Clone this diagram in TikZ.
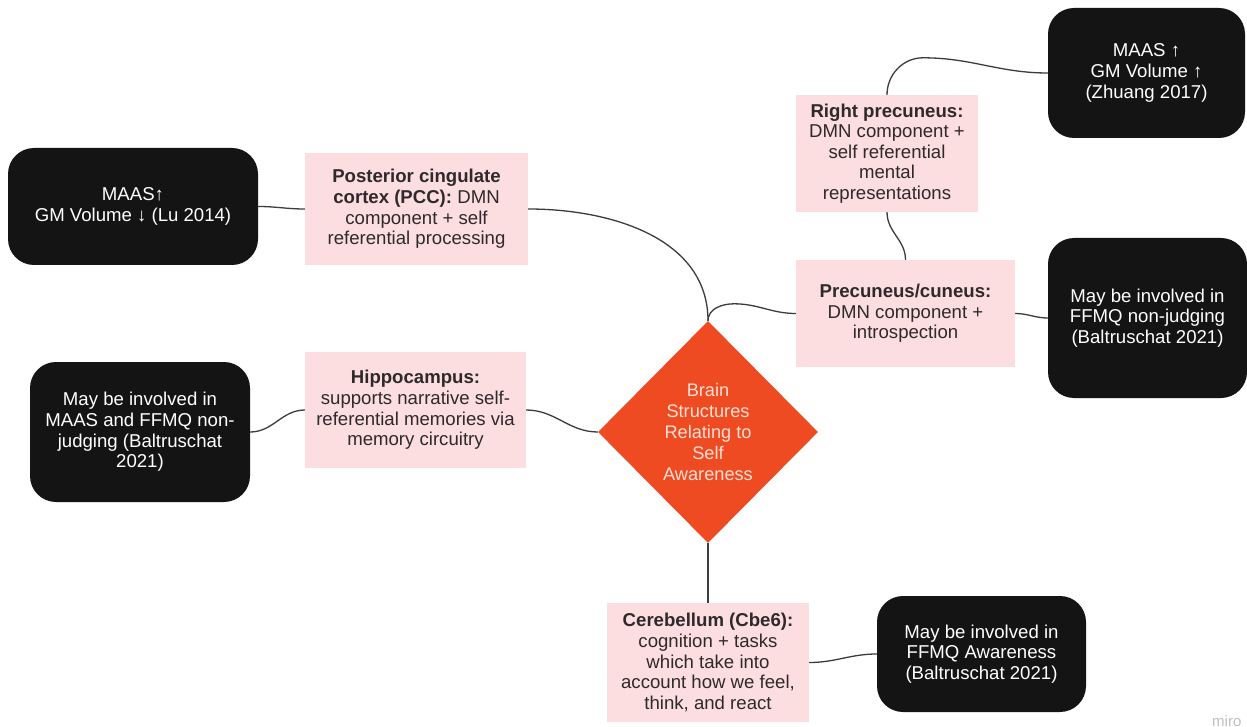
\documentclass[tikz,border=0pt]{standalone}
\usepackage{fontspec}
\setmainfont{Liberation Sans}
\usetikzlibrary{shapes.geometric,calc}

\definecolor{pinkfill}{HTML}{FCDDE0}
\definecolor{darkfill}{HTML}{141414}
\definecolor{hubfill}{HTML}{EE4B22}
\definecolor{hubtext}{HTML}{FFE0D4}
\definecolor{linkcol}{HTML}{3C3C3C}
\definecolor{bodytext}{HTML}{2E2A2A}

\tikzset{
  infobox/.style={rectangle, fill=pinkfill, align=center, text=bodytext,
    inner sep=0pt, font=\fontsize{18.6}{20.6}\selectfont},
  findbox/.style={rectangle, rounded corners=26pt, fill=darkfill, align=center,
    text=white, inner sep=0pt, font=\fontsize{18.6}{20.6}\selectfont},
  hub/.style={diamond, fill=hubfill, text=hubtext, align=center, inner sep=0pt,
    font=\fontsize{18.2}{21.2}\selectfont},
  link/.style={draw=linkcol, line width=1.3pt},
}

\begin{document}
\begin{tikzpicture}[x=1pt,y=1pt]
\useasboundingbox[fill=white] (0,0) rectangle (1247,-727);

% central diamond
\node[hub, minimum width=220pt, minimum height=222pt] (dia) at (708,-432)
  {Brain\\Structures\\Relating to\\Self\\Awareness};

% brain structures
\node[infobox, minimum width=223pt, minimum height=112pt] (pcc) at (416.5,-209)
  {\textbf{Posterior cingulate}\\\textbf{cortex (PCC):} DMN\\component + self\\referential processing};
\node[infobox, minimum width=182pt, minimum height=117pt] (rp) at (887,-153.5)
  {\textbf{Right precuneus:}\\DMN component +\\self referential\\mental\\representations};
\node[infobox, minimum width=219pt, minimum height=107pt] (pc) at (905.5,-313.5)
  {\textbf{Precuneus/cuneus:}\\DMN component +\\introspection};
\node[infobox, minimum width=221pt, minimum height=116pt] (hip) at (415.5,-410)
  {\textbf{Hippocampus:}\\supports narrative self-\\referential memories via\\memory circuitry};
\node[infobox, minimum width=202pt, minimum height=119pt] (cb) at (708,-662.5)
  {\textbf{Cerebellum (Cbe6):}\\cognition + tasks\\which take into\\account how we feel,\\think, and react};

% findings
\node[findbox, minimum width=250pt, minimum height=117pt] (lu) at (133,-206.5)
  {MAAS↑\\GM Volume ↓ (Lu 2014)};
\node[findbox, minimum width=197pt, minimum height=130pt] (zh) at (1146.5,-73)
  {MAAS ↑\\GM Volume ↑\\(Zhuang 2017)};
\node[findbox, minimum width=199pt, minimum height=160pt] (nj) at (1147.5,-318)
  {May be involved in\\FFMQ non-judging\\(Baltruschat 2021)};
\node[findbox, minimum width=220pt, minimum height=140pt] (mf) at (140,-432)
  {May be involved in\\MAAS and FFMQ non-\\judging (Baltruschat\\2021)};
\node[findbox, minimum width=209pt, minimum height=116pt] (aw) at (981.5,-654)
  {May be involved in\\FFMQ Awareness\\(Baltruschat 2021)};

% bends of the two wavy links
\coordinate (pcbend) at ($(dia.north)+(26,17)$);
\coordinate (rpbend) at ($(rp.north)+(36,37)$);

% connectors
\draw[link] (lu.east) to[out=0,in=180] (pcc.west);
\draw[link] (pcc.east) to[out=0,in=90] (dia.north);
\draw[link] (dia.north) to[out=90,in=180] (pcbend) to[out=0,in=180] (pc.west);
\draw[link] (rp.north) to[out=90,in=180] (rpbend) to[out=0,in=180] (zh.west);
\draw[link] (rp.south) to[out=-90,in=90] (pc.north);
\draw[link] (pc.east) to[out=0,in=180] (nj.west);
\draw[link] (mf.east) to[out=0,in=180] (hip.west);
\draw[link] (hip.east) to[out=0,in=180] (dia.west);
\draw[link] (dia.south) -- (cb.north);
\draw[link] (cb.east) to[out=0,in=180] (aw.west);

% faint watermark in the corner
\node[anchor=west, text=black!25, font=\fontsize{15}{15}\selectfont, inner sep=0pt]
  (mark) at (1212,-721) {miro};
\end{tikzpicture}
\end{document}
